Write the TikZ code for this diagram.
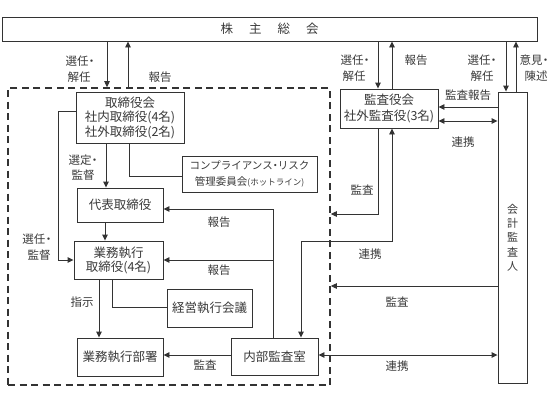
\documentclass[tikz,border=0pt]{standalone}
\usepackage{fontspec}
\setmainfont{Noto Sans CJK JP}
\usetikzlibrary{arrows.meta}
\definecolor{lc}{HTML}{333333}
\definecolor{tc}{HTML}{3A3A3A}
\newcommand{\nk}{\makebox[6pt]{・}}
\begin{document}
\begin{tikzpicture}[x=1pt,y=-1pt,
  box/.style={draw=lc,line width=0.9pt,rectangle,inner sep=0pt,align=center,text=tc,font=\fontsize{12.5}{14.5}\selectfont},
  lbl/.style={text=tc,inner sep=0pt,font=\fontsize{11.5}{13}\selectfont},
  conn/.style={draw=lc,line width=0.9pt},
  arr/.style={conn,-{Triangle[length=6pt,width=5.5pt]}},
  darr/.style={conn,{Triangle[length=6pt,width=5.5pt]}-{Triangle[length=6pt,width=5.5pt]}},
  grpbox/.style={draw=lc,line width=1.6pt,dash pattern=on 7pt off 4.5pt,rectangle,inner sep=0pt}
]
\useasboundingbox (0,0) rectangle (560,405);
\fill[white] (0,0) rectangle (560,405);

% group (dashed)
\node[grpbox,minimum width=322pt,minimum height=297pt] (grp) at (169,236.5) {};

% boxes
\node[box,minimum width=535pt,minimum height=24pt] (kabu) at (269.5,29) {株\hspace{16pt}主\hspace{16pt}総\hspace{16pt}会};
\node[box,minimum width=108pt,minimum height=51pt] (tori) at (130,117.5) {取締役会\\社内取締役(4名)\\社外取締役(2名)};
\node[box,minimum width=98pt,minimum height=39pt,font=\fontsize{12.5}{15.5}\selectfont] (kansa) at (389,108.5) {監査役会\\社外監査役(3名)};
\node[box,minimum width=29pt,minimum height=291pt,font=\fontsize{11}{14.3}\selectfont] (kaikei) at (512.5,237.5) {会\\計\\監\\査\\人};
\node[box,minimum width=135pt,minimum height=36pt,font=\fontsize{10.5}{16.5}\selectfont] (comp) at (249.5,174) {コンプライアンス\makebox[5pt]{・}リスク\\管理委員会{\fontsize{8.5}{9}\selectfont(ホットライン)}};
\node[box,minimum width=86pt,minimum height=34pt] (daihyo) at (120,205) {代表取締役};
\node[box,minimum width=89pt,minimum height=38pt,font=\fontsize{12.5}{14}\selectfont] (gyomu) at (118.5,260) {業務執行\\取締役(4名)};
\node[box,minimum width=85pt,minimum height=38pt] (keiei) at (209.5,308) {経営執行会議};
\node[box,minimum width=86pt,minimum height=38pt] (busho) at (120,357) {業務執行部署};
\node[box,minimum width=87pt,minimum height=37pt] (naibu) at (274.5,356.5) {内部監査室};

% connectors
\coordinate (a1) at (107,0);
\coordinate (a2) at (128,0);
\coordinate (a3) at (378,0);
\coordinate (a4) at (392,0);
\coordinate (a5) at (506,0);
\coordinate (a6) at (516,0);
\draw[arr] (kabu.south -| a1) -- (grp.north -| a1);
\draw[arr] (grp.north -| a2) -- (kabu.south -| a2);
\draw[arr] (kabu.south -| a3) -- (kansa.north -| a3);
\draw[arr] (kansa.north -| a4) -- (kabu.south -| a4);
\draw[arr] (kabu.south -| a5) -- (kaikei.north -| a5);
\draw[arr] (kaikei.north -| a6) -- (kabu.south -| a6);

\coordinate (b1) at (0,107);
\coordinate (b2) at (0,121);
\draw[arr] (kaikei.west |- b1) -- (kansa.east |- b1);
\draw[darr] (kansa.east |- b2) -- (kaikei.west |- b2);

\coordinate (c1) at (106,0);
\coordinate (c2) at (129,176);
\coordinate (c3) at (58,111);
\coordinate (c4) at (105,0);
\coordinate (c5) at (99,0);
\coordinate (c6) at (112,307);
\draw[arr] (tori.south -| c1) -- (daihyo.north -| c1);
\draw[conn] (tori.south -| c2) -- (c2) -- (comp.west |- c2);
\draw[arr] (tori.west |- c3) -- (c3) |- (gyomu.west);
\draw[arr] (daihyo.south -| c4) -- (gyomu.north -| c4);
\draw[arr] (gyomu.south -| c5) -- (busho.north -| c5);
\draw[conn] (gyomu.south -| c6) -- (c6) -- (keiei.west |- c6);

\coordinate (d1) at (0,355);
\coordinate (d2) at (273,209);
\coordinate (d3) at (273,260);
\draw[arr] (naibu.west |- d1) -- (busho.east |- d1);
\draw[arr] (naibu.north -| d2) -- (d2) -- (daihyo.east |- d2);
\draw[arr] (d3) -- (gyomu.east |- d3);

\coordinate (e1) at (392,241);
\coordinate (e2) at (301,241);
\coordinate (e3) at (378,214);
\coordinate (f1) at (0,286);
\draw[darr] (kansa.south -| e1) -- (e1) -- (e2) -- (naibu.north -| e2);
\draw[arr] (kansa.south -| e3) -- (e3) -- (grp.east |- e3);
\draw[arr] (kaikei.west |- f1) -- (grp.east |- f1);
\draw[darr] (naibu.east |- d1) -- (kaikei.west |- d1);

% labels
\node[lbl] (l1) at (80,61) {選任\nk};
\node[lbl] (l2) at (79,77) {解任};
\node[lbl] (l3) at (160,77) {報告};
\node[lbl] (l4) at (355,60) {選任\nk};
\node[lbl] (l5) at (354,76) {解任};
\node[lbl] (l6) at (416,60) {報告};
\node[lbl] (l7) at (482,60) {選任\nk};
\node[lbl] (l8) at (482,76) {解任};
\node[lbl] (l9) at (534,60) {意見\nk};
\node[lbl] (l10) at (536,76) {陳述};
\node[lbl] (l11) at (468,95) {監査報告};
\node[lbl] (l12) at (463,142) {連携};
\node[lbl] (l13) at (83,160) {選定\nk};
\node[lbl] (l14) at (83,175) {監督};
\node[lbl] (l15) at (37,239) {選任\nk};
\node[lbl] (l16) at (39,255) {監督};
\node[lbl] (l17) at (219,222) {報告};
\node[lbl] (l18) at (219,270) {報告};
\node[lbl] (l19) at (82,302) {指示};
\node[lbl] (l20) at (205,365) {監査};
\node[lbl] (l21) at (362,190) {監査};
\node[lbl] (l22) at (370,254) {連携};
\node[lbl] (l23) at (397,302) {監査};
\node[lbl] (l24) at (397,366) {連携};
\end{tikzpicture}
\end{document}
